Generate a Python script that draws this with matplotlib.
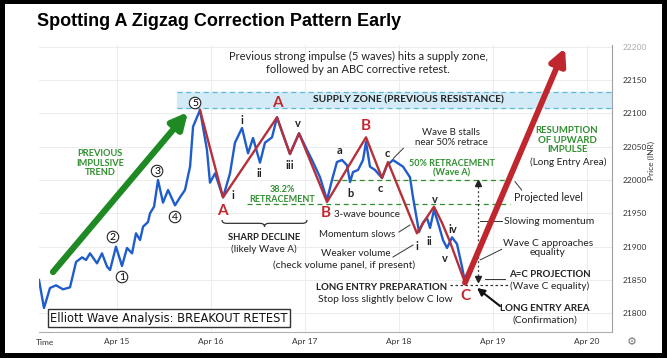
import matplotlib.pyplot as plt
import matplotlib.transforms as mtransforms
from matplotlib.patches import Rectangle, FancyArrowPatch, PathPatch
from matplotlib.path import Path

plt.rcParams['font.family'] = ['Lato', 'DejaVu Sans']

# time axis: days after Apr 15 00:00, prices in INR
price_t = [-0.830, -0.777, -0.713, -0.649, -0.574, -0.500, -0.436, -0.372, -0.330, -0.287,
           -0.213, -0.160, -0.106, -0.074, -0.011, 0.053, 0.106, 0.160, 0.202, 0.245,
           0.277, 0.330, 0.351, 0.394, 0.436, 0.489, 0.543, 0.617, 0.670, 0.723,
           0.777, 0.809, 0.883, 0.957, 0.989, 1.043, 1.128, 1.202, 1.255, 1.330,
           1.394, 1.447, 1.521, 1.574, 1.649, 1.702, 1.766, 1.840, 1.936, 2.011,
           2.085, 2.160, 2.234, 2.287, 2.340, 2.394, 2.447, 2.479, 2.511, 2.564,
           2.617, 2.649, 2.691, 2.745, 2.819, 2.872, 2.936, 2.989, 3.043, 3.117,
           3.149, 3.191, 3.213, 3.255, 3.298, 3.330, 3.372, 3.415, 3.468, 3.511,
           3.564, 3.617, 3.670, 3.702]
price_v = [21850, 21808, 21838, 21842, 21836, 21839, 21877, 21884, 21880, 21890,
           21875, 21890, 21870, 21865, 21900, 21871, 21898, 21890, 21920, 21910,
           21930, 21937, 21950, 21960, 22000, 21966, 21985, 21962, 21974, 21985,
           22020, 22080, 22105, 22045, 21996, 22010, 21974, 22010, 22056, 22078,
           22040, 22063, 22026, 22056, 22064, 22094, 22068, 22039, 22070, 22048,
           22027, 22004, 21970, 22000, 22027, 22030, 22022, 21997, 22012, 22015,
           22030, 22057, 22020, 22015, 22003, 22022, 22030, 22025, 22020, 22004,
           21974, 21940, 21922, 21936, 21943, 21928, 21955, 21936, 21910, 21898,
           21914, 21904, 21870, 21847]

# ABC zigzag overlay
zigzag_t = [0.883, 1.128, 1.702, 1.840, 1.936, 2.234, 2.649, 2.819, 2.883,
            3.191, 3.277, 3.372, 3.457, 3.543, 3.702]
zigzag_v = [22105, 21974, 22094, 22039, 22070, 21967, 22064, 22003, 22027,
            21920, 21940, 21960, 21936, 21907, 21846]

supply_zone = (22108, 22132)
fib_382 = 21964
fib_50 = 22000
c_low = 21842
impulse_start = (-0.681, 21862)
impulse_end = (0.755, 22102)
target = (4.766, 22198)

day_ticks = [0, 1, 2, 3, 4, 5]
day_labels = ['Apr 15', 'Apr 16', 'Apr 17', 'Apr 18', 'Apr 19', 'Apr 20']
price_ticks = [21800, 21850, 21900, 21950, 22000, 22050, 22100, 22150, 22200]

BLUE = '#1f5ccc'
RED = '#b5303a'
REDTXT = '#c4262e'
GREEN = '#2f8f2f'
DARK = '#222222'

fig = plt.figure(figsize=(6.67, 3.58), dpi=100, facecolor='black')
fig.patches.append(Rectangle((5 / 667, 5 / 358), 657 / 667, 349 / 358,
                             transform=fig.transFigure, fc='white', ec='none', zorder=-1))
ax = fig.add_axes([39 / 667, 26 / 358, 573 / 667, 287 / 358])
ax.patch.set_visible(False)
ax.set_xlim(-0.83, 5.266)
ax.set_ylim(21772, 22202.5)

for s in ['top', 'left']:
    ax.spines[s].set_visible(False)
ax.spines['bottom'].set_color('#b0b0b0')
ax.spines['right'].set_color('#a0a0a0')
ax.yaxis.tick_right()
ax.set_xticks(day_ticks, day_labels)
ax.set_yticks(price_ticks, [str(p) for p in price_ticks])
ax.tick_params(length=0, labelsize=6, colors='#333333')
ax.tick_params(axis='y', pad=8)
ax.tick_params(axis='x', pad=4)
ax.get_yticklabels()[-1].set_color('#aaaaaa')
ax.grid(True, color='#ececec', lw=0.7)
ax.set_axisbelow(True)
ax.text(-0.766, -0.025, 'Time', transform=mtransforms.blended_transform_factory(ax.transData, ax.transAxes),
        fontsize=6, color='#333333', ha='center', va='top')
fig.text(651 / 667, 1 - 160 / 358, 'Price (INR)', rotation=90, fontsize=6, color='#333333',
         ha='center', va='center')
fig.text(632 / 667, 1 - 342 / 358, '\u2699', fontsize=8, color='#777777', ha='center', va='center',
         family='DejaVu Sans')

# title and header
fig.text(37 / 667, 1 - 22 / 358, 'Spotting A Zigzag Correction Pattern Early', fontsize=13,
         fontweight='bold', family='Liberation Sans', va='center')
ax.text(2.564, 22175, 'Previous strong impulse (5 waves) hits a supply zone,\n'
        'followed by an ABC corrective retest.', fontsize=8, ha='center', va='center',
        color=DARK, linespacing=1.2)

# supply zone
ax.axhspan(supply_zone[0], supply_zone[1], xmin=(0.638 + 0.83) / 6.096, color='#d3ebf6', zorder=1)
for lvl in supply_zone:
    ax.plot([0.638, 5.266], [lvl, lvl], color='#5fb8d8', lw=0.9, ls=(0, (4, 3)), zorder=1)
ax.text(3.096, 22119.5, 'SUPPLY ZONE (PREVIOUS RESISTANCE)', fontsize=7.4, ha='center',
        va='center', color=DARK, fontweight='bold')

# retracement levels
ax.plot([1.383, 4.181], [fib_382, fib_382], color=GREEN, lw=0.9, ls=(0, (4, 3)), zorder=2)
ax.plot([2.298, 4.181], [fib_50, fib_50], color=GREEN, lw=0.9, ls=(0, (4, 3)), zorder=2)
ax.plot([3.54, 4.18], [c_low, c_low], color='#333333', lw=0.9, ls=(0, (2, 2)), zorder=2)

# price and zigzag
ax.plot(price_t, price_v, color=BLUE, lw=1.7, zorder=3)
ax.plot(zigzag_t, zigzag_v, color=RED, lw=1.7, zorder=4)

# trend arrows
ax.add_patch(FancyArrowPatch(impulse_start, impulse_end, arrowstyle='-|>', mutation_scale=24,
                             lw=4.5, color='#1f8a24', shrinkA=0, shrinkB=0, zorder=5))
ax.add_patch(FancyArrowPatch((zigzag_t[-1], zigzag_v[-1]), target, arrowstyle='-|>',
                             mutation_scale=24, lw=4.2, color='#c0262d', shrinkA=0, shrinkB=0,
                             zorder=5))

# circled impulse labels
circ = dict(boxstyle='circle,pad=0.12', fc='white', ec=DARK, lw=0.8)
for lab, x, y in [('1', 0.053, 21854.5), ('2', -0.043, 21914.5), ('3', 0.426, 22013.5),
                  ('4', 0.617, 21944.5), ('5', 0.830, 22115.5)]:
    ax.text(x, y, lab, fontsize=7.5, ha='center', va='center', bbox=circ, zorder=6)

# ABC labels
for lab, x, y in [('A', 1.117, 21953.5), ('A', 1.702, 22115.5), ('B', 2.649, 22081),
                  ('B', 2.223, 21950.5), ('C', 3.702, 21826)]:
    ax.text(x, y, lab, fontsize=11, fontweight='bold', color=REDTXT, ha='center', va='center',
            zorder=6)

for lab, x, y in [('i', 1.326, 22090), ('i', 1.237, 21977.5), ('ii', 1.514, 22010),
                  ('iii', 1.840, 22022.5), ('v', 1.929, 22085), ('a', 2.372, 22045),
                  ('b', 2.479, 21980), ('c', 2.798, 21987.5), ('c', 2.876, 22040),
                  ('i', 3.188, 21901), ('ii', 3.323, 21907.5), ('v', 3.383, 21971),
                  ('iv', 3.578, 21926), ('v', 3.489, 21882.5)]:
    ax.text(x, y, lab, fontsize=8, fontweight='bold', color=DARK, ha='center', va='center',
            zorder=6)

# green notes
ax.text(-0.181, 22025, 'PREVIOUS\nIMPULSIVE\nTREND', fontsize=6.7, fontweight='bold',
        color=GREEN, ha='center', va='center', linespacing=1.05)
ax.text(4.787, 22060, 'RESUMPTION\nOF UPWARD\nIMPULSE', fontsize=6.9, fontweight='bold',
        color=GREEN, ha='center', va='center', linespacing=1.05)
ax.text(4.798, 22027, '(Long Entry Area)', fontsize=7.2, color=DARK, ha='center', va='center')
ax.text(3.564, 22017, '50% RETRACEMENT\n(Wave A)', fontsize=6.5, fontweight='bold',
        color=GREEN, ha='center', va='center', linespacing=1.05)
ax.text(1.755, 21978, '38.2%\nRETRACEMENT', fontsize=6.5, fontweight='bold', color=GREEN,
        ha='center', va='center', linespacing=1.05)

# dark notes
ax.text(3.553, 22064, 'Wave B stalls\nnear 50% retrace', fontsize=7, color=DARK,
        ha='center', va='center', linespacing=1.1)
ax.plot([2.940, 3.046], [22032.5, 22047.5], color='#333333', lw=0.7)
ax.text(1.564, 21914, 'SHARP DECLINE', fontsize=6.8, fontweight='bold', color=DARK,
        ha='center', va='center')
ax.text(1.564, 21896, '(likely Wave A)', fontsize=7.2, color=DARK, ha='center', va='center')
ax.text(2.66, 21949, '3-wave bounce', fontsize=7, color=DARK, ha='center', va='center')
ax.text(2.553, 21919, 'Momentum slows', fontsize=7, color=DARK, ha='center', va='center')
ax.plot([3.0, 3.117], [21922, 21932.5], color='#333333', lw=0.7)
ax.text(2.543, 21890.5, 'Weaker volume', fontsize=7.2, color=DARK, ha='center', va='center')
ax.plot([2.936, 3.149], [21884.5, 21902.5], color='#333333', lw=0.7)
ax.text(2.415, 21872.5, '(check volume panel, if present)', fontsize=7.4, color=DARK,
        ha='center', va='center')
ax.text(2.819, 21839.5, 'LONG ENTRY PREPARATION', fontsize=7, fontweight='bold', color=DARK,
        ha='center', va='center')
ax.text(2.851, 21821.5, 'Stop loss slightly below C low', fontsize=7.5, color=DARK,
        ha='center', va='center')

# brace under the sharp decline
x0, x1, yb, d, h = 1.117, 2.021, 21935, 0.05, 5
xm = (x0 + x1) / 2
verts = [(x0, yb + h), (x0, yb), (x0 + d, yb), (xm - d, yb), (xm, yb), (xm, yb - h),
         (xm, yb), (xm + d, yb), (x1 - d, yb), (x1, yb), (x1, yb + h)]
codes = [Path.MOVETO, Path.CURVE3, Path.CURVE3, Path.LINETO, Path.CURVE3, Path.CURVE3,
         Path.CURVE3, Path.CURVE3, Path.LINETO, Path.CURVE3, Path.CURVE3]
ax.add_patch(PathPatch(Path(verts, codes), fc='none', ec='#333333', lw=0.9))

# projection block
ax.plot([3.84, 3.84], [21997, 21852], color='#333333', lw=0.9, ls=(0, (1.5, 2)))
ax.plot([3.84], [21995], marker='^', color='#222222', ms=4.5)
ax.plot([3.84], [21852], marker='v', color='#222222', ms=4.5)
ax.text(4.585, 21974.5, 'Projected level', fontsize=7.6, color=DARK, ha='center', va='center')
ax.plot([4.234, 4.305], [21997.5, 21985], color='#333333', lw=0.7)
ax.text(4.596, 21938.5, 'Slowing momentum', fontsize=7.5, color=DARK, ha='center', va='center')
ax.plot([3.862, 4.092], [21939, 21939], color='#333333', lw=0.7)
ax.text(4.585, 21898, 'Wave C approaches\nequality', fontsize=7.4, color=DARK, ha='center',
        va='center', linespacing=1.05)
ax.plot([3.862, 4.092], [21880, 21896], color='#333333', lw=0.7)
ax.text(4.606, 21859, 'A=C PROJECTION', fontsize=7, fontweight='bold', color=DARK,
        ha='center', va='center')
ax.text(4.606, 21841, '(Wave C equality)', fontsize=7.3, color=DARK, ha='center', va='center')
ax.plot([3.915, 4.128], [21851, 21851], color='#333333', lw=0.7)
ax.text(4.553, 21808, 'LONG ENTRY AREA', fontsize=7.1, fontweight='bold', color=DARK,
        ha='center', va='center')
ax.text(4.553, 21790, '(Confirmation)', fontsize=7.4, color=DARK, ha='center', va='center')
ax.add_patch(FancyArrowPatch((4.074, 21811), (3.830, 21838), arrowstyle='-|>',
                             mutation_scale=11, lw=1.5, color='#111111', shrinkA=0, shrinkB=0))

# caption box
ax.text(0.553, 21793, 'Elliott Wave Analysis: BREAKOUT RETEST', fontsize=8.3,
        family='DejaVu Sans', color='#111111', ha='center', va='center',
        bbox=dict(boxstyle='square,pad=0.22', fc='white', ec='#333333', lw=1.0), zorder=7)

fig.savefig('out.png', dpi=100, facecolor='black')
